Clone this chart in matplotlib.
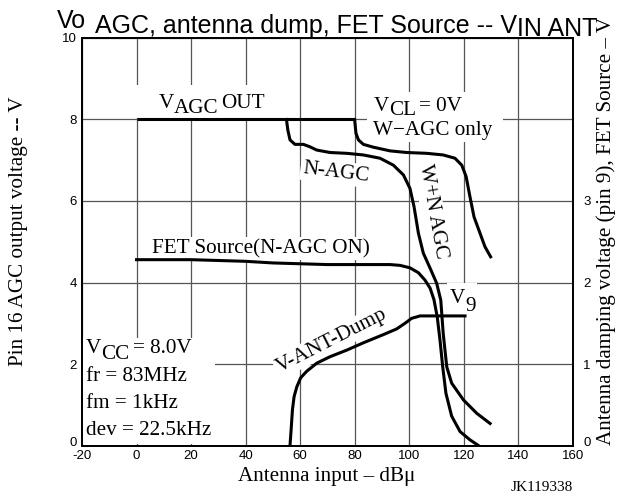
import matplotlib
matplotlib.use("Agg")
import matplotlib.pyplot as plt
from matplotlib.patches import Rectangle
from matplotlib.transforms import offset_copy, ScaledTranslation

SERIF = "Liberation Serif"
SANS = "Liberation Sans"
plt.rcParams["axes.unicode_minus"] = False

# --- data (dBu, V) ---
# left axis: pin 16 AGC output
vagc_db = [0, 80]
vagc_v = [8.0, 8.0]

nagc_db = [55.0, 55.5, 56.3, 58.1, 61.2, 63.6, 66.1, 71.0, 77.1, 83.2, 89.3, 94.2, 97.9,
           100.3, 101.8, 103.4, 105.2, 107.7, 110.1, 111.6, 112.5, 113.8, 115.6, 119.9,
           124.8, 129.7]
nagc_v = [8.0, 7.74, 7.50, 7.39, 7.39, 7.33, 7.25, 7.19, 7.17, 7.13, 7.05, 6.88, 6.64,
          6.31, 5.86, 5.21, 4.72, 4.35, 3.98, 3.57, 2.75, 1.93, 1.53, 1.12, 0.79, 0.54]

wagc_db = [80.0, 80.5, 81.4, 83.2, 86.9, 93.0, 99.1, 106.4, 112.5, 116.8, 119.3, 120.9,
           122.3, 123.8, 126.0, 127.8, 129.9]
wagc_v = [8.0, 7.66, 7.50, 7.39, 7.32, 7.23, 7.19, 7.17, 7.13, 7.05, 6.88, 6.60, 6.11,
          5.61, 5.21, 4.88, 4.63]

# right axis: pin 9 damping voltage and FET source
fet_db = [0, 20, 40, 50, 60, 70, 80, 93.0, 96.7, 100.3, 103.4, 105.8, 107.7, 109.1,
          110.3, 111.3, 112.3, 113.5, 115.6, 118.7, 122.3, 125.4]
fet_v = [2.28, 2.28, 2.26, 2.24, 2.23, 2.22, 2.22, 2.22, 2.21, 2.18, 2.12, 2.03, 1.93,
         1.79, 1.58, 1.30, 0.97, 0.64, 0.36, 0.17, 0.07, 0.0]

dump_db = [56.3, 56.7, 57.2, 57.8, 58.8, 60.2, 62.4, 66.1, 71.0, 77.1, 83.2, 90.5, 95.4,
           98.5, 100.9, 104.0, 120.5]
dump_v = [0, 0.19, 0.44, 0.60, 0.72, 0.83, 0.91, 1.01, 1.09, 1.17, 1.26, 1.36, 1.43,
          1.50, 1.56, 1.59, 1.59]

x_ticks = [-20, 0, 20, 40, 60, 80, 100, 120, 140, 160]
left_ticks = [0, 2, 4, 6, 8, 10]
right_ticks = [0, 1, 2, 3]


def rich(parent, x, y, parts, base, **kw):
    # draws text pieces one after another, each with its own baseline shift (pixels)
    fig = plt.gcf()
    rend = fig.canvas.get_renderer()
    dx = 0.0
    for s, dy, gap in parts:
        dx += gap
        tr = offset_copy(base, fig=fig, x=dx, y=dy, units="dots")
        t = parent.text(x, y, s, transform=tr, ha="left", va="baseline", **kw)
        dx += t.get_window_extent(rend).width


fig = plt.figure(figsize=(6.18, 4.96), dpi=100)
ax = fig.add_axes([0.1327, 0.1018, 0.7940, 0.8216])
ax2 = ax.twinx()

ax.set_xlim(-20, 160)
ax.set_ylim(0, 10)
ax2.set_ylim(0, 5)
ax.set_xticks(x_ticks)
ax.set_yticks(left_ticks)
ax2.set_yticks(right_ticks)
ax.set_axisbelow(True)
ax.grid(True, color="#555555", lw=0.9)
ax.tick_params(length=0, labelsize=9.5)
ax.tick_params(axis="x", pad=3.5)
ax.tick_params(axis="y", pad=3.5)
ax2.tick_params(length=0, labelsize=9.5, pad=7.5)
for lab in ax.get_xticklabels() + ax.get_yticklabels() + ax2.get_yticklabels():
    lab.set_fontfamily(SANS)
# the two "0" labels sit a little above the bottom edge
lift = ScaledTranslation(0, 4 / 100, fig.dpi_scale_trans)
for lab in (ax.get_yticklabels()[0], ax2.get_yticklabels()[0]):
    lab.set_transform(lab.get_transform() + lift)
for a in (ax, ax2):
    for sp in a.spines.values():
        sp.set_linewidth(1.3)

lw = 2.2
ax.plot(vagc_db, vagc_v, color="black", lw=lw, zorder=4, solid_capstyle="butt")
ax.plot(nagc_db, nagc_v, color="black", lw=lw, zorder=4, solid_joinstyle="round")
ax.plot(wagc_db, wagc_v, color="black", lw=lw, zorder=4, solid_joinstyle="round")
ax2.plot(fet_db, fet_v, color="black", lw=lw, solid_joinstyle="round")
ax2.plot(dump_db, dump_v, color="black", lw=lw, solid_joinstyle="round")

# white backgrounds behind labels (they cut the grid)
for (x0, y0, x1, y1) in [(-3, 8.04, 52, 8.85), (84.5, 7.45, 134.5, 8.68),
                         (-19.7, 0.03, 28.8, 2.64), (114, 3.2, 125, 3.98)]:
    ax.add_patch(Rectangle((x0, y0), x1 - x0, y1 - y0, facecolor="white",
                           edgecolor="none", zorder=1.5))

fs = 15.2
tk = dict(fontfamily=SERIF, fontsize=fs, zorder=3)
wb = dict(facecolor="white", edgecolor="none", pad=1.5)

rich(ax, 8.0, 8.27, [("V", 0, 0), ("AGC", -5, 0), ("OUT", 0, 3)], ax.transData, **tk)
rich(ax, 86.9, 8.22, [("V", 0, 0), ("CL", -4.3, 0), ("= 0V", 0, 3)], ax.transData, **tk)
ax.text(86.9, 7.62, "W\u2212AGC only", ha="left", va="baseline", **tk)
ax.text(73.1, 6.70, "N-AGC", ha="center", va="center", rotation=-7,
        rotation_mode="anchor", bbox=wb, **tk)
ax.text(108.6, 5.74, "W+N AGC", ha="center", va="center", rotation=-80,
        rotation_mode="anchor", bbox=wb, **tk)
ax.text(5.6, 4.72, "FET Source(N-AGC ON)", ha="left", va="baseline", bbox=wb, **tk)
ax.text(71.6, 2.57, "V-ANT-Dump", ha="center", va="center", rotation=27,
        rotation_mode="anchor", bbox=wb, **tk)
rich(ax, 115.0, 3.49, [("V", 0, 0), ("9", -8, 0)], ax.transData, **tk)

rich(ax, -18.5, 2.26, [("V", 0, 0), ("CC", -5.5, 0), ("= 8.0V", 0, 3)], ax.transData, **tk)
ax.text(-18.5, 1.58, "fr = 83MHz", ha="left", va="baseline", **tk)
ax.text(-18.5, 0.92, "fm = 1kHz", ha="left", va="baseline", **tk)
ax.text(-18.5, 0.26, "dev = 22.5kHz", ha="left", va="baseline", **tk)

# title with shifted baselines
rich(fig, 57 / 618, 1 - 28 / 496,
     [("Vo", 0, 0), ("AGC, antenna dump, FET Source -- V", -5, 9), ("IN ANT", -8.5, 0)],
     fig.transFigure, fontfamily=SANS, fontsize=18)

fig.text(19 / 618, 1 - 231 / 496, "Pin 16 AGC output voltage -- V", rotation=90,
         ha="center", va="center", fontfamily=SERIF, fontsize=fs)
fig.text(606.5 / 618, 1 - 231 / 496, "Antenna damping voltage (pin 9), FET Source \u2013 V",
         rotation=90, ha="center", va="center", fontfamily=SERIF, fontsize=fs)
fig.text(327 / 618, 1 - 477 / 496, "Antenna input \u2013 dB\u03bc", ha="center", va="center",
         fontfamily=SERIF, fontsize=fs)
fig.text(572.7 / 618, 1 - 491 / 496, "JK119338", ha="right", va="baseline",
         fontfamily=SERIF, fontsize=11)

fig.savefig("out.png", dpi=100)
